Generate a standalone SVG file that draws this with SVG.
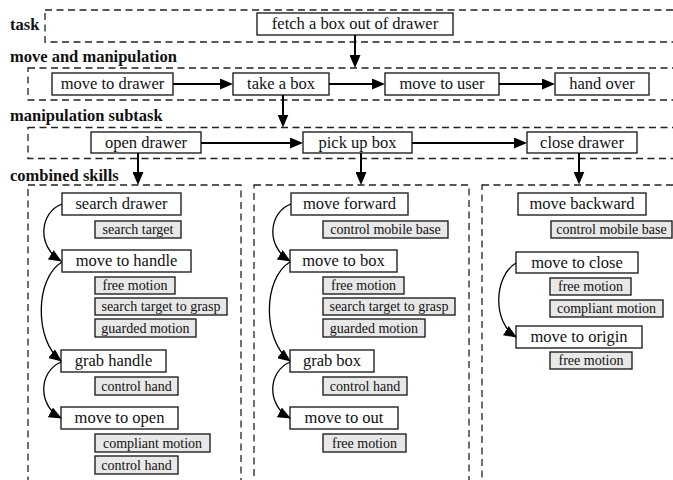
<svg xmlns="http://www.w3.org/2000/svg" width="673" height="480" viewBox="0 0 673 480">
<defs>
<style>
.dash{fill:none;stroke:#222;stroke-width:1.3;stroke-dasharray:7 4.5}
.box{fill:#fff;stroke:#222;stroke-width:1.4}
.sub{fill:#e8e8e8;stroke:#222;stroke-width:1.4}
text{font-family:"Liberation Serif","Times New Roman",serif;fill:#111}
.t{font-size:16.5px;text-anchor:middle}
.s{font-size:14px;text-anchor:middle}
.lbl{font-size:16.5px;font-weight:bold}
.arr{fill:none;stroke:#000;stroke-width:2;marker-end:url(#ah)}
.crv{fill:none;stroke:#000;stroke-width:1.3;marker-end:url(#ahc)}
</style>
<marker id="ah" markerUnits="userSpaceOnUse" viewBox="0 0 13 11" refX="10" refY="5.5" markerWidth="13" markerHeight="11" orient="auto">
<path d="M0,0 L13,5.5 L0,11 z" fill="#000"/>
</marker>
<marker id="ahc" markerUnits="userSpaceOnUse" viewBox="0 0 13 11" refX="12" refY="5.5" markerWidth="13" markerHeight="11" orient="auto">
<path d="M0,0 L13,5.5 L0,11 z" fill="#000"/>
</marker>
</defs>

<g id="layers">
<rect class="dash" x="45" y="10" width="640" height="32"/>
<text class="lbl" x="10" y="30">task</text>
<rect class="dash" x="28" y="68" width="660" height="32"/>
<text class="lbl" x="10" y="62">move and manipulation</text>
<rect class="dash" x="28" y="127.5" width="660" height="31"/>
<text class="lbl" x="10" y="121">manipulation subtask</text>
<text class="lbl" x="10" y="181">combined skills</text>
<rect class="dash" x="28" y="185" width="213" height="310"/>
<rect class="dash" x="254" y="185" width="215" height="310"/>
<rect class="dash" x="482" y="185" width="210" height="310"/>
</g>

<g id="n-fetch"><rect class="box" x="257" y="13" width="196" height="22"/><text class="t" x="355" y="29">fetch a box out of drawer</text></g>

<g id="n-move-to-drawer"><rect class="box" x="52" y="73" width="121" height="22"/><text class="t" x="112.5" y="89">move to drawer</text></g>
<g id="n-take-a-box"><rect class="box" x="233" y="73" width="96" height="22"/><text class="t" x="281" y="89">take a box</text></g>
<g id="n-move-to-user"><rect class="box" x="385" y="73" width="114" height="22"/><text class="t" x="442" y="89">move to user</text></g>
<g id="n-hand-over"><rect class="box" x="555" y="73" width="94" height="22"/><text class="t" x="602" y="89">hand over</text></g>

<g id="n-open-drawer"><rect class="box" x="91" y="132" width="110" height="21"/><text class="t" x="146" y="148">open drawer</text></g>
<g id="n-pick-up-box"><rect class="box" x="303" y="132" width="109" height="21"/><text class="t" x="357.5" y="148">pick up box</text></g>
<g id="n-close-drawer"><rect class="box" x="527" y="132" width="110" height="21"/><text class="t" x="582" y="148">close drawer</text></g>

<!-- left column -->
<g id="n-search-drawer"><rect class="box" x="62" y="193" width="119" height="22"/><text class="t" x="121.5" y="209">search drawer</text></g>
<g id="n-l-search-target"><rect class="sub" x="95" y="221" width="86" height="17"/><text class="s" x="138" y="234">search target</text></g>
<g id="n-move-to-handle"><rect class="box" x="62" y="250" width="129" height="22"/><text class="t" x="126.5" y="266">move to handle</text></g>
<g id="n-l-free-motion"><rect class="sub" x="95" y="277" width="80" height="17"/><text class="s" x="135" y="290">free motion</text></g>
<g id="n-l-search-grasp"><rect class="sub" x="95" y="298" width="132" height="17"/><text class="s" x="161" y="311">search target to grasp</text></g>
<g id="n-l-guarded"><rect class="sub" x="95" y="319" width="101" height="18"/><text class="s" x="145.5" y="332.5">guarded motion</text></g>
<g id="n-grab-handle"><rect class="box" x="61" y="350" width="105" height="22"/><text class="t" x="113.5" y="366">grab handle</text></g>
<g id="n-l-control-hand-1"><rect class="sub" x="95" y="377" width="83" height="18"/><text class="s" x="136.5" y="390.5">control hand</text></g>
<g id="n-move-to-open"><rect class="box" x="61" y="407" width="117" height="22"/><text class="t" x="119.5" y="423">move to open</text></g>
<g id="n-l-compliant"><rect class="sub" x="95" y="434" width="115" height="18"/><text class="s" x="152.5" y="447.5">compliant motion</text></g>
<g id="n-l-control-hand-2"><rect class="sub" x="95" y="456" width="83" height="18"/><text class="s" x="136.5" y="469.5">control hand</text></g>

<!-- middle column -->
<g id="n-move-forward"><rect class="box" x="291" y="193" width="117" height="22"/><text class="t" x="349.5" y="209">move forward</text></g>
<g id="n-m-control-base"><rect class="sub" x="323" y="221" width="125" height="17"/><text class="s" x="385.5" y="234">control mobile base</text></g>
<g id="n-move-to-box"><rect class="box" x="290" y="250" width="107" height="22"/><text class="t" x="343.5" y="266">move to box</text></g>
<g id="n-m-free-motion"><rect class="sub" x="323" y="277" width="81" height="17"/><text class="s" x="363.5" y="290">free motion</text></g>
<g id="n-m-search-grasp"><rect class="sub" x="323" y="298" width="132" height="17"/><text class="s" x="389" y="311">search target to grasp</text></g>
<g id="n-m-guarded"><rect class="sub" x="323" y="319" width="102" height="18"/><text class="s" x="374" y="332.5">guarded motion</text></g>
<g id="n-grab-box"><rect class="box" x="290" y="350" width="84" height="22"/><text class="t" x="332" y="366">grab box</text></g>
<g id="n-m-control-hand"><rect class="sub" x="323" y="377" width="84" height="18"/><text class="s" x="365" y="390.5">control hand</text></g>
<g id="n-move-to-out"><rect class="box" x="290" y="407" width="108" height="22"/><text class="t" x="344" y="423">move to out</text></g>
<g id="n-m-free-motion-2"><rect class="sub" x="323" y="434" width="83" height="18"/><text class="s" x="364.5" y="447.5">free motion</text></g>

<!-- right column -->
<g id="n-move-backward"><rect class="box" x="518" y="193" width="128" height="22"/><text class="t" x="582" y="209">move backward</text></g>
<g id="n-r-control-base"><rect class="sub" x="551" y="221" width="121" height="17"/><text class="s" x="611.5" y="234">control mobile base</text></g>
<g id="n-move-to-close"><rect class="box" x="516" y="252" width="122" height="21"/><text class="t" x="577" y="268">move to close</text></g>
<g id="n-r-free-motion"><rect class="sub" x="550" y="278" width="81" height="17"/><text class="s" x="590.5" y="291">free motion</text></g>
<g id="n-r-compliant"><rect class="sub" x="550" y="300" width="113" height="17"/><text class="s" x="606.5" y="313">compliant motion</text></g>
<g id="n-move-to-origin"><rect class="box" x="516" y="326" width="126" height="22"/><text class="t" x="579" y="342">move to origin</text></g>
<g id="n-r-free-motion-2"><rect class="sub" x="550" y="352" width="82" height="17"/><text class="s" x="591" y="365">free motion</text></g>

<g id="connectors">
<path class="arr" d="M355,35 V65"/>
<path class="arr" d="M173,84 H230"/>
<path class="arr" d="M329,84 H382"/>
<path class="arr" d="M499,84 H552"/>
<path class="arr" d="M283,95 V124.5"/>
<path class="arr" d="M201,143 H300"/>
<path class="arr" d="M412,143 H524"/>
<path class="arr" d="M138,153 V182"/>
<path class="arr" d="M361,153 V182"/>
<path class="arr" d="M579,153 V181.5"/>
<path class="crv" d="M62,204 C40,212 36,246 61,261"/>
<path class="crv" d="M62,262 C35,278 34,340 61,361"/>
<path class="crv" d="M61,362 C38,372 38,406 61,418"/>
<path class="crv" d="M291,204 C269,212 265,246 290,261"/>
<path class="crv" d="M290,262 C263,278 262,340 290,361"/>
<path class="crv" d="M290,362 C267,372 267,406 290,418"/>
<path class="crv" d="M516,263 C494,276 492,322 516,337"/>
</g>
</svg>
